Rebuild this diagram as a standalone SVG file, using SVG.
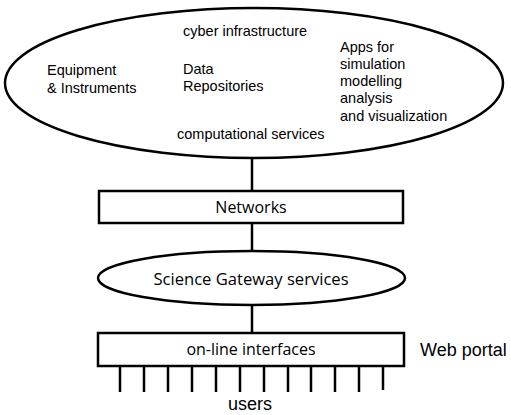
<svg xmlns="http://www.w3.org/2000/svg" width="511" height="415" viewBox="0 0 511 415">
<style>
.shape{fill:#fff;stroke:#000;stroke-width:2.5}
.line{stroke:#000;stroke-width:2.5;fill:none}
.a{font-family:"Liberation Sans",Arial,sans-serif;font-size:14.5px;fill:#000}
.c{font-family:"Open Sans","Noto Sans",sans-serif;font-size:16px;fill:#000}
.w{font-family:"Liberation Sans",Arial,sans-serif;font-size:18px;fill:#000}
</style>
<rect width="511" height="415" fill="#fff"/>
<g id="connectors">
<line class="line" x1="252" y1="158" x2="252" y2="191"/>
<line class="line" x1="252" y1="223" x2="252" y2="251"/>
<line class="line" x1="252" y1="305" x2="252" y2="333"/>
<g id="user-lines">
<line class="line" x1="120" y1="366" x2="120" y2="392"/>
<line class="line" x1="144" y1="366" x2="144" y2="392"/>
<line class="line" x1="168" y1="366" x2="168" y2="392"/>
<line class="line" x1="192" y1="366" x2="192" y2="392"/>
<line class="line" x1="216" y1="366" x2="216" y2="392"/>
<line class="line" x1="240" y1="366" x2="240" y2="392"/>
<line class="line" x1="264" y1="366" x2="264" y2="392"/>
<line class="line" x1="288" y1="366" x2="288" y2="392"/>
<line class="line" x1="311" y1="366" x2="311" y2="392"/>
<line class="line" x1="335" y1="366" x2="335" y2="392"/>
<line class="line" x1="359" y1="366" x2="359" y2="392"/>
<line class="line" x1="383" y1="366" x2="383" y2="390"/>
</g>
</g>
<g id="cyber">
<ellipse class="shape" cx="254" cy="83" rx="249" ry="75"/>
<text class="a" x="183" y="36">cyber infrastructure</text>
<text class="a" x="47" y="75">Equipment</text>
<text class="a" x="47" y="93">&amp; Instruments</text>
<text class="a" x="183" y="74">Data</text>
<text class="a" x="183" y="91">Repositories</text>
<text class="a" x="340" y="52">Apps for</text>
<text class="a" x="340" y="69">simulation</text>
<text class="a" x="340" y="86">modelling</text>
<text class="a" x="340" y="103">analysis</text>
<text class="a" x="340" y="121">and visualization</text>
<text class="a" x="177" y="139">computational services</text>
</g>
<g id="networks">
<rect class="shape" x="99" y="191" width="304" height="32"/>
<text class="c" x="251" y="213" text-anchor="middle">Networks</text>
</g>
<g id="gateway">
<ellipse class="shape" cx="251.5" cy="278" rx="153.5" ry="27"/>
<text class="c" x="251" y="285" text-anchor="middle" style="font-size:16.6px">Science Gateway services</text>
</g>
<g id="interfaces">
<rect class="shape" x="98" y="333" width="306" height="33"/>
<text class="c" x="251" y="355" text-anchor="middle">on-line interfaces</text>
</g>
<text class="w" x="420" y="356">Web portal</text>
<text class="w" x="250" y="410" text-anchor="middle">users</text>
</svg>
